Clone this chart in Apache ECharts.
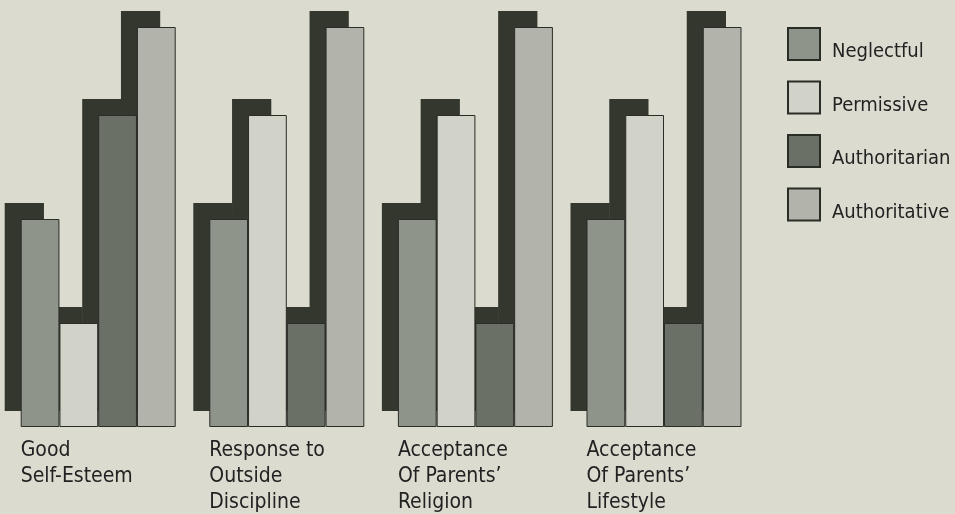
<!DOCTYPE html>
<html>
<head>
<meta charset="utf-8">
<script src="https://cdn.jsdelivr.net/npm/echarts@6/dist/echarts.min.js"></script>
<style>
  html, body { margin: 0; padding: 0; background: #dcdbcf; }
  #chart { width: 955px; height: 514px; }
</style>
</head>
<body>
<div id="chart"></div>
<script>
const categories = ['Good\nSelf-Esteem', 'Response to\nOutside\nDiscipline', 'Acceptance\nOf Parents\u2019\nReligion', 'Acceptance\nOf Parents\u2019\nLifestyle']
const styles = ['Neglectful', 'Permissive', 'Authoritarian', 'Authoritative']

// relative heights (tallest = 100)
const neglectful = [52, 52, 52, 52]
const permissive = [26, 78, 78, 78]
const authoritarian = [78, 26, 26, 26]
const authoritative = [100, 100, 100, 100]

const values = [neglectful, permissive, authoritarian, authoritative]
const colors = ['#8f948a', '#d2d3c8', '#6b7066', '#b2b4ab']

const FONT = '"DejaVu Sans Condensed", "Liberation Sans Narrow", sans-serif'
const BAR_W = 38.75
const SHADOW_DX = -16
const SHADOW_DY = -16

// shadow rows: [category, series, value]
const shadowData = []
values.forEach((arr, s) => arr.forEach((v, c) => shadowData.push([c, s, v])))

const myChart = echarts.init(document.getElementById('chart'))

const barSeries = styles.map((name, i) => ({
	name: name,
	type: 'bar',
	z: 3,
	barWidth: BAR_W,
	barGap: '0%',
	data: values[i],
	itemStyle: {
		color: colors[i],
		borderColor: '#2a2c26',
		borderWidth: 1
	}
}))

myChart.setOption({
	backgroundColor: '#dcdbcf',
	animation: false,
	grid: { left: 3.9, width: 754.4, top: 27, bottom: 87 },
	legend: {
		orient: 'vertical',
		left: 787,
		top: 26,
		padding: 0,
		itemWidth: 32,
		itemHeight: 32,
		itemGap: 17.5,
		icon: 'rect',
		data: styles,
		formatter: (name) => '{t|' + name + '}',
		textStyle: {
			rich: {
				// top padding pushes the names down toward the bottom of their swatches
				t: {
					fontFamily: FONT,
					fontSize: 20,
					lineHeight: 22,
					color: '#222',
					padding: [16, 0, 0, 7]
				}
			}
		}
	},
	xAxis: {
		type: 'category',
		data: categories,
		axisLine: { show: false },
		axisTick: { show: false },
		axisLabel: {
			interval: 0,
			margin: 11,
			formatter: function (value) {
				return value.split('\n').map((l) => '{a|' + l + '}').join('\n')
			},
			rich: {
				a: {
					width: 4 * BAR_W,
					align: 'left',
					fontFamily: FONT,
					fontSize: 21,
					lineHeight: 26,
					color: '#222'
				}
			}
		}
	},
	yAxis: {
		type: 'value',
		min: 0,
		max: 100,
		show: false,
		splitLine: { show: false }
	},
	series: [
		{
			// dark offset silhouette behind each group
			type: 'custom',
			z: 1,
			silent: true,
			data: shadowData,
			encode: { x: 0, y: 2 },
			renderItem: function (params, api) {
				const c = api.value(0)
				const s = api.value(1)
				const top = api.coord([c, api.value(2)])
				const base = api.coord([c, 0])
				return {
					type: 'rect',
					shape: {
						x: top[0] - 2 * BAR_W + s * BAR_W + SHADOW_DX,
						y: top[1] + SHADOW_DY,
						width: BAR_W + 0.5,
						height: base[1] - top[1]
					},
					style: { fill: '#33372e' }
				}
			}
		}
	].concat(barSeries)
})
</script>
</body>
</html>
